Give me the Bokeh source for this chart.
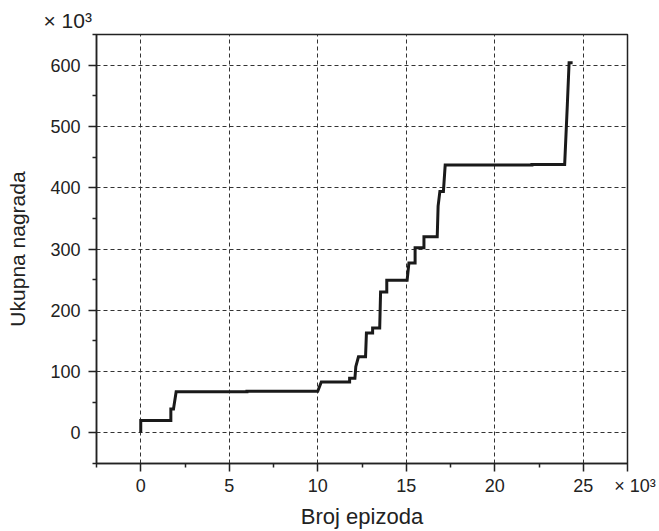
from bokeh.plotting import figure
from bokeh.models import FixedTicker, Title
from bokeh.embed import file_html
from bokeh.resources import INLINE

# Data (episodes in thousands, cumulative reward in thousands)
episodes = [0, 0, 1.7, 1.7, 1.85, 2.0, 6.0, 6.0, 10.0, 10.2, 11.8, 11.8, 12.1, 12.15,
            12.3, 12.7, 12.75, 13.1, 13.1, 13.5, 13.55, 13.9, 13.9, 15.05, 15.15, 15.5,
            15.5, 16.0, 16.0, 16.75, 16.8, 16.9, 17.1, 17.2, 22.1, 22.1, 23.95, 24.1,
            24.2, 24.4]
reward = [0, 20, 20, 39, 39, 67, 67, 68, 68, 83, 83, 89, 89, 108,
          124, 124, 163, 163, 171, 171, 230, 230, 249, 249, 277, 277,
          302, 302, 320, 320, 370, 394, 394, 437, 437, 438, 438, 535,
          604, 604]

x_major = [0, 5, 10, 15, 20, 25]
x_minor = [-2.5, 2.5, 7.5, 12.5, 17.5, 22.5]
y_major = [0, 100, 200, 300, 400, 500, 600]
y_minor = [-50, 50, 150, 250, 350, 450, 550, 650]
x_scale_pos = 27.5
scale_text = "\u00d7 10\u00b3"

FONT = "Liberation Sans"

p = figure(width=659, height=531, output_backend="svg", toolbar_location=None,
           x_range=(-2.5, 27.5), y_range=(-50, 650),
           min_border_left=96, min_border_right=32, min_border_top=34, min_border_bottom=68)

p.background_fill_color = "white"
p.border_fill_color = "white"
p.outline_line_color = "#222222"
p.outline_line_width = 1.5
p.outline_line_alpha = 1

p.xaxis.ticker = FixedTicker(ticks=x_major + [x_scale_pos], minor_ticks=x_minor)
p.yaxis.ticker = FixedTicker(ticks=y_major, minor_ticks=y_minor)
p.xaxis.major_label_overrides = {x_scale_pos: "\u00a0\u00a0\u00a0" + scale_text}

for ax in (p.xaxis[0], p.yaxis[0]):
    ax.axis_line_color = "#222222"
    ax.axis_line_width = 1.5
    ax.major_tick_line_color = "#222222"
    ax.major_tick_line_width = 1.5
    ax.minor_tick_line_color = "#222222"
    ax.minor_tick_line_width = 1.5
    ax.major_tick_in = 0
    ax.major_tick_out = 8
    ax.minor_tick_in = 0
    ax.minor_tick_out = 4
    ax.major_label_text_font = FONT
    ax.major_label_text_font_size = "18px"
    ax.major_label_text_color = "#222222"
    ax.axis_label_text_font = FONT
    ax.axis_label_text_font_style = "normal"
    ax.axis_label_text_color = "#222222"

p.xaxis.axis_label = "Broj epizoda"
p.yaxis.axis_label = "Ukupna nagrada"
p.xaxis.axis_label_text_font_size = "22px"
p.yaxis.axis_label_text_font_size = "21px"
p.xaxis.major_label_standoff = 4
p.yaxis.major_label_standoff = 8
p.xaxis.axis_label_standoff = 5
p.yaxis.axis_label_standoff = 18

p.xgrid.ticker = FixedTicker(ticks=x_major)
p.ygrid.ticker = FixedTicker(ticks=y_major)
for g in (p.xgrid[0], p.ygrid[0]):
    g.grid_line_color = "#333333"
    g.grid_line_dash = "4 3"
    g.grid_line_width = 1

p.line(episodes, reward, line_color="#1a1a1a", line_width=3, line_join="miter")

# y scale multiplier (top-left)
p.add_layout(Title(text=scale_text, align="left", offset=-53, standoff=6,
                   text_font=FONT, text_font_size="21px", text_font_style="normal",
                   text_color="#222222"), "above")

open("out.html", "w").write(file_html(p, INLINE))
